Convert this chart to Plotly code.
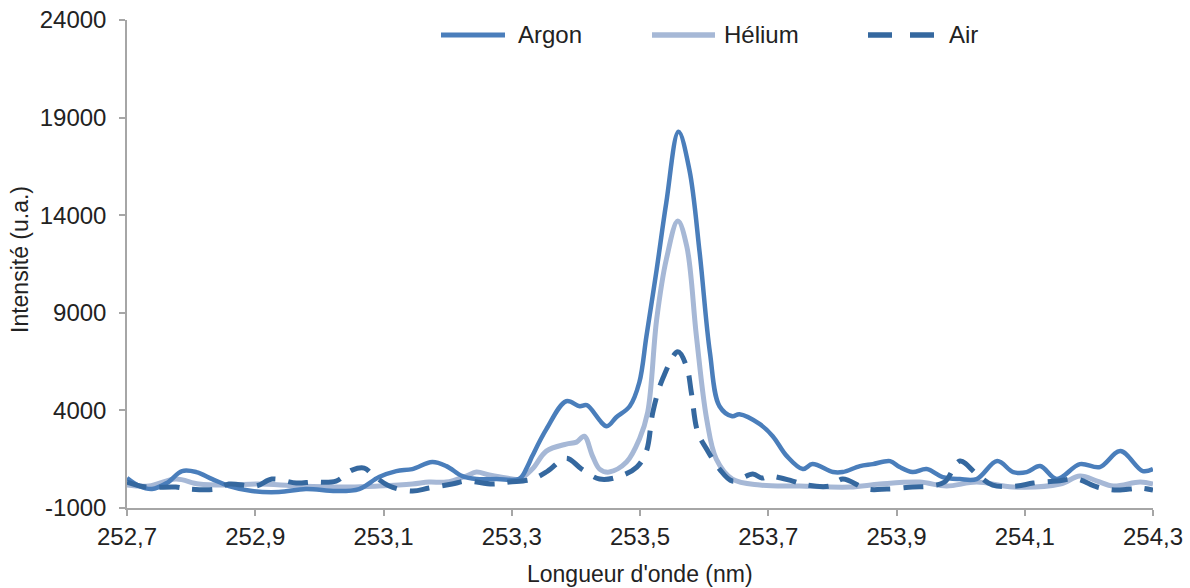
import plotly.graph_objects as go

# Emission spectra around 253.5 nm for three plasma gases
argon_wl = [252.700, 252.719, 252.739, 252.762, 252.786, 252.808, 252.833, 252.859, 252.895,
            252.937, 252.979, 253.026, 253.062, 253.093, 253.120, 253.145, 253.176, 253.198,
            253.223, 253.245, 253.276, 253.312, 253.324, 253.332, 253.354, 253.385, 253.406,
            253.417, 253.448, 253.463, 253.484, 253.499, 253.510, 253.526, 253.541, 253.560,
            253.577, 253.593, 253.609, 253.624, 253.644, 253.655, 253.687, 253.707, 253.729,
            253.754, 253.769, 253.801, 253.816, 253.843, 253.863, 253.890, 253.905, 253.925,
            253.947, 253.972, 253.999, 254.025, 254.057, 254.082, 254.103, 254.124, 254.150,
            254.186, 254.217, 254.249, 254.284, 254.300]
argon_int = [534, 125, -29, 278, 891, 840, 482, 125, -131,
             -182, -29, -131, -29, 585, 891, 994, 1352, 1147,
             636, 482, 482, 500, 1096, 1658, 3038, 4470, 4214,
             4265, 3192, 3652, 4214, 5441, 7793, 11218, 14643, 18272,
             16330, 12087, 6975, 4214, 3703, 3805, 3294, 2681, 1658,
             994, 1249, 840, 840, 1147, 1249, 1403, 1096, 840,
             994, 585, 482, 482, 1403, 840, 840, 1147, 482,
             1249, 1096, 1914, 891, 994]

helium_wl = [252.700, 252.734, 252.776, 252.812, 252.859, 252.906, 252.968, 253.047, 253.093,
             253.145, 253.171, 253.198, 253.229, 253.245, 253.265, 253.292, 253.312, 253.332,
             253.354, 253.385, 253.401, 253.413, 253.426, 253.437, 253.452, 253.479, 253.499,
             253.512, 253.526, 253.541, 253.559, 253.573, 253.588, 253.604, 253.619, 253.644,
             253.687, 253.749, 253.827, 253.874, 253.936, 253.978, 254.025, 254.082, 254.155,
             254.186, 254.213, 254.238, 254.280, 254.300]
helium_int = [176, 125, 482, 227, 176, 227, 125, 74, 125,
              227, 329, 329, 636, 840, 687, 534, 482, 994,
              1914, 2272, 2374, 2681, 1658, 994, 840, 1352, 2527,
              3908, 8662, 11729, 13700, 12394, 7793, 3550, 1505, 482,
              176, 125, 74, 227, 329, 125, 329, 74, 227,
              636, 380, 125, 329, 227]

air_wl = [252.700, 252.730, 252.776, 252.797, 252.839, 252.859, 252.901, 252.926, 252.964,
          252.989, 253.026, 253.051, 253.070, 253.082, 253.109, 253.145, 253.171, 253.207,
          253.229, 253.270, 253.296, 253.332, 253.356, 253.385, 253.409, 253.437, 253.465,
          253.495, 253.510, 253.520, 253.535, 253.559, 253.573, 253.580, 253.590, 253.604,
          253.624, 253.644, 253.676, 253.690, 253.702, 253.738, 253.760, 253.796, 253.816,
          253.854, 253.885, 253.925, 253.952, 253.975, 253.999, 254.025, 254.050, 254.088,
          254.113, 254.150, 254.181, 254.213, 254.244, 254.280, 254.300]
air_int = [329, 74, 74, -29, -29, 227, 125, 482, 278,
           329, 380, 943, 1045, 738, 125, -131, 22, 227,
           380, 227, 329, 482, 891, 1556, 994, 482, 585,
           1096, 1914, 3908, 5594, 7000, 6208, 4930, 2885, 2016,
           994, 380, 738, 534, 636, 380, 176, 125, 482,
           -29, -29, 74, 125, 329, 1403, 738, 176, 125,
           278, 380, 482, 74, -80, 22, -80]

x_ticks = [252.7, 252.9, 253.1, 253.3, 253.5, 253.7, 253.9, 254.1, 254.3]
x_tick_labels = ["252,7", "252,9", "253,1", "253,3", "253,5", "253,7", "253,9", "254,1", "254,3"]
y_ticks = [-1000, 4000, 9000, 14000, 19000, 24000]
y_tick_labels = ["-1000", "4000", "9000", "14000", "19000", "24000"]

series_names = ["Argon", "Hélium", "Air"]
colors = {"Argon": "#4a7ebb", "Hélium": "#a6b8d6", "Air": "#35689f"}
widths = {"Argon": 4.5, "Hélium": 5, "Air": 5}
dashes = {"Argon": "solid", "Hélium": "solid", "Air": "20px,13px"}

FONT = "Liberation Sans, Arial, sans-serif"
TEXT = "#222222"
AXIS = "#a6a6a6"

W, H = 1190, 588
L, R, T, B = 127, 37, 20, 80
pw, ph = W - L - R, H - T - B


def px_x(px):
    """Pixel column -> paper x."""
    return (px - L) / pw


def px_y(py):
    """Pixel row -> paper y."""
    return (H - B - py) / ph


fig = go.Figure()
for name, xs, ys in [("Hélium", helium_wl, helium_int),
                     ("Argon", argon_wl, argon_int),
                     ("Air", air_wl, air_int)]:
    fig.add_trace(go.Scatter(
        x=xs, y=ys, name=name, mode="lines",
        line=dict(color=colors[name], width=widths[name], dash=dashes[name],
                  shape="spline", smoothing=1.0),
        showlegend=False,
    ))

# Legend drawn as line samples with labels along the top of the plot
legend_pos = {"Argon": (441, 505, 516), "Hélium": (652, 715, 722), "Air": (868, 935, 947)}
legend_dash = {"Argon": "solid", "Hélium": "solid", "Air": "24px,18px"}
legend_row = 35
for name in series_names:
    x0, x1, xt = legend_pos[name]
    fig.add_shape(type="line", xref="paper", yref="paper",
                  x0=px_x(x0), x1=px_x(x1), y0=px_y(legend_row), y1=px_y(legend_row),
                  line=dict(color=colors[name], width=widths[name] + 0.5,
                            dash=legend_dash[name]))
    fig.add_annotation(xref="paper", yref="paper", x=px_x(xt), y=px_y(legend_row),
                       text=name, showarrow=False, xanchor="left", yanchor="middle",
                       font=dict(family=FONT, size=24, color=TEXT))

# Axis titles
fig.add_annotation(xref="paper", yref="paper", x=px_x(640), y=px_y(574),
                   text="Longueur d'onde (nm)", showarrow=False,
                   xanchor="center", yanchor="middle",
                   font=dict(family=FONT, size=23, color=TEXT))
fig.add_annotation(xref="paper", yref="paper", x=px_x(20), y=px_y(260),
                   text="Intensité (u.a.)", showarrow=False, textangle=-90,
                   xanchor="center", yanchor="middle",
                   font=dict(family=FONT, size=23, color=TEXT))

fig.update_layout(
    width=W, height=H,
    margin=dict(l=L, r=R, t=T, b=B, autoexpand=False),
    paper_bgcolor="white", plot_bgcolor="white",
    font=dict(family=FONT, size=24, color=TEXT),
    xaxis=dict(
        range=[252.7, 254.3], tickvals=x_ticks, ticktext=x_tick_labels,
        showgrid=False, zeroline=False, showline=True, linecolor=AXIS, linewidth=1.5,
        ticks="outside", ticklen=6, tickcolor=AXIS, tickwidth=1.5, automargin=False,
        tickfont=dict(family=FONT, size=24, color=TEXT),
    ),
    yaxis=dict(
        range=[-1000, 24000], tickvals=y_ticks, ticktext=y_tick_labels,
        showgrid=False, zeroline=False, showline=True, linecolor=AXIS, linewidth=1.5,
        ticks="outside", ticklen=6, tickcolor=AXIS, tickwidth=1.5, automargin=False,
        tickfont=dict(family=FONT, size=24, color=TEXT),
        ticklabelstandoff=8,
    ),
)

fig.write_html("out.html")
